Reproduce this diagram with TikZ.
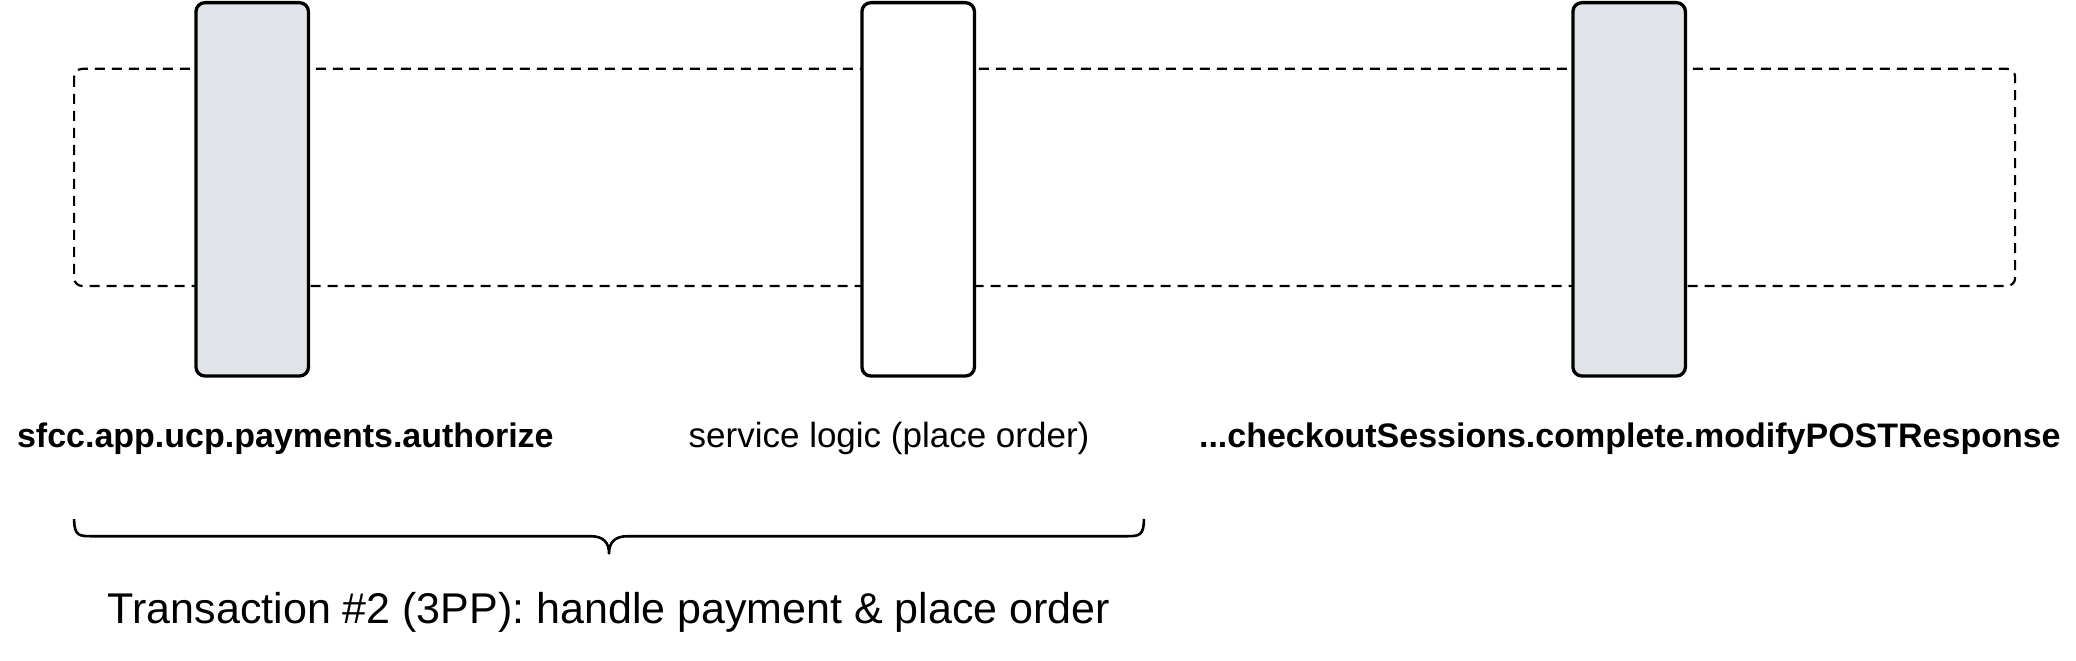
\documentclass[tikz,border=0pt]{standalone}
\usepackage{fontspec}
\setmainfont{Liberation Sans}
\begin{document}
\begin{tikzpicture}[x=1.324pt,y=-1.324pt,
  blk/.style={draw=black,line width=3.3pt,rounded corners=9pt,minimum width=85*1.324pt,minimum height=282*1.324pt,inner sep=0},
  lbl/.style={font=\fontsize{34}{38}\selectfont\bfseries,anchor=base},
  lblr/.style={font=\fontsize{35}{38}\selectfont,anchor=base}]
\useasboundingbox (0,0) rectangle (1568,499);
\draw[line width=2.2pt,dash pattern=on 10pt off 7pt,rounded corners=8pt] (56,52) rectangle (1522,216);
\node[blk,fill={rgb,255:red,224;green,227;blue,231}] (a) at (190.5,143) {};
\node[blk,fill=white] (b) at (693.5,143) {};
\node[blk,fill={rgb,255:red,224;green,227;blue,231}] (c) at (1230.5,143) {};
\node[lbl] (la) at (215.5,338) {sfcc.app.ucp.payments.authorize};
\node[lblr] (lb) at (671.5,338) {service logic (place order)};
\node[lbl] (lc) at (1231,338) {...checkoutSessions.complete.modifyPOSTResponse};
\draw[line width=2.6pt,line join=round] (56,392) .. controls (56,405) and (60,405) .. (70,405) -- (446,405) .. controls (456,405) and (460,410) .. (460,418) .. controls (460,410) and (464,405) .. (474,405) -- (850,405) .. controls (860,405) and (864,405) .. (864,392);
\node[font=\fontsize{43}{46}\selectfont,anchor=base] (t) at (460,471) {Transaction \#2 (3PP): handle payment \& place order};
\end{tikzpicture}
\end{document}
